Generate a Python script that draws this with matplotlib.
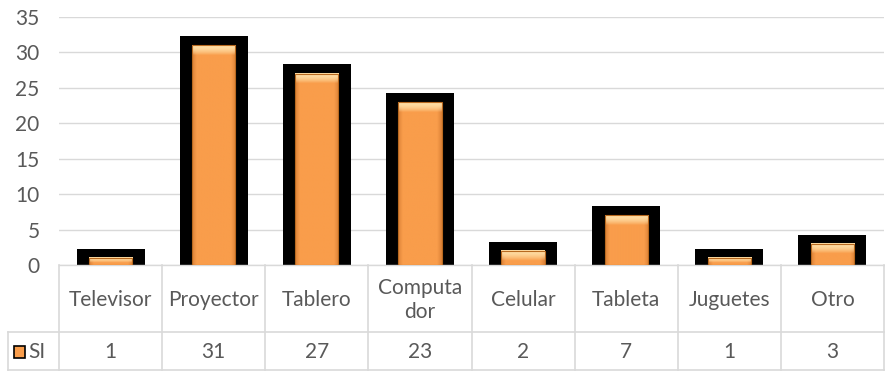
import numpy as np
import matplotlib.pyplot as plt
from matplotlib.transforms import blended_transform_factory

categorias = ["Televisor", "Proyector", "Tablero", "Computa\ndor",
              "Celular", "Tableta", "Juguetes", "Otro"]
valores_si = [1, 31, 27, 23, 2, 7, 1, 3]
ticks_y = [0, 5, 10, 15, 20, 25, 30, 35]
serie = "SI"

plt.rcParams['font.family'] = ['Lato', 'DejaVu Sans']

W, H = 885, 373
gris_txt = '#595959'
gris_lin = '#D9D9D9'
naranja = np.array([249, 157, 75]) / 255
claro = np.array([255, 222, 165]) / 255
oscuro = np.array([205, 115, 45]) / 255

fig = plt.figure(figsize=(W / 100, H / 100), dpi=100)
ax = fig.add_axes([59 / W, 1 - 265 / H, (884 - 59) / W, (265 - 17) / H])

x = np.arange(len(categorias))
# black backing block behind each bar
ax.bar(x, [v + 1.3 for v in valores_si], width=0.66, color='black', zorder=2)
barras = ax.bar(x, valores_si, width=0.42, color='none', zorder=3)


def bisel(alto, ancho, t):
    filas, cols = 400, 40
    yy = np.linspace(alto, 0, filas)[:, None]
    xx = np.linspace(0, ancho, cols)[None, :]
    dist_top = alto - yy
    f_top = np.clip(1 - (dist_top / t) ** 2, 0, 1)
    f_lado = np.clip(1 - np.minimum(xx, ancho - xx) / (ancho * 0.1), 0, 1)
    img = naranja[None, None, :] + f_top[..., None] * (claro - naranja)
    img = img + (f_lado[..., None] * (1 - f_top[..., None])) * 0.6 * (oscuro - naranja)
    return np.clip(img, 0, 1)


for b in barras:
    x0, w, h = b.get_x(), b.get_width(), b.get_height()
    t = min(1.4, 0.7 * h)
    ax.imshow(bisel(h, w, t), extent=(x0, x0 + w, 0, h), aspect='auto',
              interpolation='bilinear', zorder=3)
    ax.add_patch(plt.Rectangle((x0, 0), w, h, fill=False, edgecolor='#B8691F',
                               linewidth=0.8, zorder=4))

ax.set_xlim(-0.5, len(categorias) - 0.5)
ax.set_ylim(0, 35)
ax.set_yticks(ticks_y)
ax.tick_params(axis='y', length=0, pad=14, labelsize=15, labelcolor=gris_txt)
ax.set_xticks([])
ax.grid(axis='y', color=gris_lin, linewidth=1, zorder=0)
ax.set_axisbelow(True)
for s in ['top', 'right', 'left']:
    ax.spines[s].set_visible(False)
ax.spines['bottom'].set_color(gris_lin)
ax.spines['bottom'].set_linewidth(1)

# data table under the axis
tr = blended_transform_factory(ax.transData, fig.transFigure)
fy = lambda py: 1 - py / H
y_top, y_mid, y_bot = fy(265), fy(332), fy(370)

for i in range(len(categorias) + 1):
    ax.plot([i - 0.5, i - 0.5], [y_top, y_bot], transform=tr, color=gris_lin,
            linewidth=1.2, clip_on=False)
fig.add_artist(plt.Line2D([8 / W, 884 / W], [y_mid, y_mid], color=gris_lin, linewidth=1.2))
fig.add_artist(plt.Line2D([8 / W, 884 / W], [y_bot, y_bot], color=gris_lin, linewidth=1.2))
fig.add_artist(plt.Line2D([8 / W, 8 / W], [y_mid, y_bot], color=gris_lin, linewidth=1.2))

for i, (cat, v) in enumerate(zip(categorias, valores_si)):
    ax.text(i, fy(300), cat, transform=tr, ha='center', va='center',
            fontsize=15, color=gris_txt, linespacing=1.25, clip_on=False)
    ax.text(i, fy(352), str(v), transform=tr, ha='center', va='center',
            fontsize=15, color=gris_txt, clip_on=False)

# legend key
fig.patches.append(plt.Rectangle((14 / W, fy(358)), 11 / W, 12 / H, transform=fig.transFigure,
                                 facecolor=naranja, edgecolor='black', linewidth=1.2))
fig.text(28 / W, fy(352), serie, ha='left', va='center', fontsize=15, color=gris_txt)

fig.savefig("out.png", dpi=100)
